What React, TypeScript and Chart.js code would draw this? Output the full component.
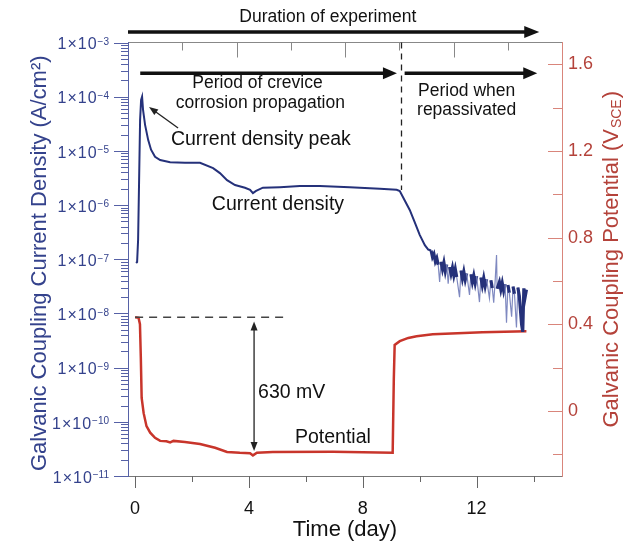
import React, { useEffect, useRef } from 'react';
import { Chart, registerables } from 'chart.js';

Chart.register(...registerables);

// ---------- data ----------
// Galvanic coupling current density (A/cm²) vs time (day)
const currentTimes = [
  0.035, 0.07, 0.105, 0.14, 0.175, 0.21, 0.245, 0.28, 0.35, 0.46, 0.56, 0.7, 0.88, 1.23, 1.75,
  2.28, 2.74, 2.98, 3.23, 3.51, 3.86, 4.04, 4.14, 4.25, 4.49, 5.09, 5.79, 6.49, 7.54, 8.6, 9.19,
  9.3, 9.47, 9.65, 9.82, 10.0, 10.18, 10.3,
  10.4, 10.45, 10.5, 10.55, 10.6, 10.65, 10.7, 10.75, 10.8, 10.85, 10.9, 10.95, 11.0, 11.05,
  11.1, 11.15, 11.2, 11.25, 11.3, 11.4, 11.45, 11.5, 11.55, 11.6, 11.65, 11.75, 11.8, 11.85,
  11.9, 11.95, 12.0, 12.1, 12.15, 12.2, 12.25, 12.3, 12.35, 12.45, 12.5, 12.55, 12.6, 12.65,
  12.7, 12.72, 12.8, 12.85, 12.9, 12.95, 13.0, 13.05, 13.1, 13.15, 13.23, 13.28, 13.33, 13.4,
  13.45, 13.5, 13.58, 13.62, 13.66, 13.7, 13.75,
];
const currentValues = [
  8.51e-8, 8.91e-8, 2.29e-7, 2.88e-6, 3.72e-5, 8.71e-5, 1.0e-4, 5.62e-5, 3.02e-5, 1.58e-5,
  1.05e-5, 7.76e-6, 6.76e-6, 6.17e-6, 6.03e-6, 6.03e-6, 4.79e-6, 3.89e-6, 2.88e-6, 2.34e-6,
  2.09e-6, 1.91e-6, 1.66e-6, 1.82e-6, 2.09e-6, 2.14e-6, 2.24e-6, 2.24e-6, 2.14e-6, 2.0e-6,
  1.91e-6, 1.82e-6, 1.23e-6, 8.13e-7, 4.9e-7, 2.82e-7, 1.82e-7, 1.51e-7,
  1.45e-7, 1.1e-7, 1.25e-7, 9.1e-8, 1.05e-7, 7.9e-8, 3.8e-8, 9.0e-8, 6.6e-8, 8.7e-8,
  6.0e-8, 8.0e-8, 3.55e-8, 7.2e-8, 5.4e-8, 7.0e-8, 5.0e-8, 6.6e-8, 4.7e-8, 2.0e-8,
  6.2e-8, 4.4e-8, 5.9e-8, 4.2e-8, 5.5e-8, 2.19e-8, 5.3e-8, 3.8e-8, 5.0e-8, 3.6e-8,
  4.9e-8, 1.62e-8, 4.6e-8, 3.3e-8, 4.5e-8, 3.2e-8, 4.3e-8, 1.91e-8, 4.1e-8, 2.95e-8,
  1.58e-8, 3.9e-8, 1.2e-7, 2.85e-8, 3.8e-8, 2.75e-8, 3.65e-8, 2.62e-8, 3.5e-8, 6.76e-9,
  3.35e-8, 2.4e-8, 8.71e-9, 3.15e-8, 2.3e-8, 5.5e-9, 3.0e-8, 2.1e-8, 6.31e-9, 4.57e-9,
  2.9e-8, 1.95e-8, 2.75e-8,
];

// Galvanic coupling potential (V_SCE) vs time (day)
const potentialTimes = [
  0, 0.12, 0.17, 0.2, 0.23, 0.3, 0.4, 0.53, 0.7, 0.88, 1.1, 1.23, 1.35, 1.75, 2.28, 2.81, 3.23,
  3.68, 4.04, 4.14, 4.28, 4.84, 6.95, 9.05, 9.09, 9.12, 9.3, 9.6, 9.89, 10.46, 12.2, 13.75,
];
const potentialValues = [
  0.432, 0.43, 0.4, 0.25, 0.06, -0.01, -0.07, -0.1, -0.124, -0.138, -0.14, -0.145, -0.138,
  -0.143, -0.152, -0.17, -0.189, -0.193, -0.195, -0.205, -0.193, -0.189, -0.188, -0.193, 0.147,
  0.305, 0.322, 0.337, 0.345, 0.354, 0.363, 0.368,
];

// ---------- axes / tick labels ----------
const xTickLabels = [0, 4, 8, 12];
const xTickMarks = [0, 2, 4, 6, 8, 10, 12, 14];
const leftTickValues = [1e-11, 1e-10, 1e-9, 1e-8, 1e-7, 1e-6, 1e-5, 1e-4, 1e-3];
const logMinorMantissas = [2, 3, 4, 5, 6, 7, 8, 9];
const rightTickValues = [0, 0.4, 0.8, 1.2, 1.6];
const rightTickMarks = [-0.2, 0, 0.2, 0.4, 0.6, 0.8, 1.0, 1.2, 1.4, 1.6];
const topTickMarks = [1, 2, 3, 4, 5, 6, 7];

const FONT = '"Liberation Sans", Arial, Helvetica, sans-serif';
const BLUE_TEXT = '#34428c';
const BLUE_AXIS = '#5661a6';
const BLUE_LINE = '#25317a';
const BLUE_SPIKE = '#7f89c0';
const RED_LINE = '#c8352b';
const RED_TEXT = '#b4423a';
const RED_AXIS = '#d9857b';

function isSpike(i: number): boolean {
  if (i <= 0 || i >= currentValues.length - 1) return false;
  const v = currentValues[i];
  const a = currentValues[i - 1];
  const b = currentValues[i + 1];
  return v < 0.6 * Math.min(a, b) || v > 1.8 * Math.max(a, b);
}

function head(ctx: CanvasRenderingContext2D, x: number, y: number, ang: number, hl: number, hw: number) {
  const c = Math.cos(ang), s = Math.sin(ang);
  ctx.beginPath();
  ctx.moveTo(x, y);
  ctx.lineTo(x - hl * c + hw * s, y - hl * s - hw * c);
  ctx.lineTo(x - hl * c - hw * s, y - hl * s + hw * c);
  ctx.closePath();
  ctx.fill();
}
function arrow(
  ctx: CanvasRenderingContext2D, x1: number, y1: number, x2: number, y2: number,
  lw: number, hl: number, hw: number, both = false,
) {
  const ang = Math.atan2(y2 - y1, x2 - x1);
  const c = Math.cos(ang), s = Math.sin(ang);
  ctx.lineWidth = lw;
  ctx.beginPath();
  ctx.moveTo(both ? x1 + c * hl * 0.8 : x1, both ? y1 + s * hl * 0.8 : y1);
  ctx.lineTo(x2 - c * hl * 0.8, y2 - s * hl * 0.8);
  ctx.stroke();
  head(ctx, x2, y2, ang, hl, hw);
  if (both) head(ctx, x1, y1, ang + Math.PI, hl, hw);
}
function text(
  ctx: CanvasRenderingContext2D, s: string, x: number, y: number, size: number,
  align: CanvasTextAlign = 'center', color = '#111',
) {
  ctx.font = `${size}px ${FONT}`;
  ctx.fillStyle = color;
  ctx.textAlign = align;
  ctx.textBaseline = 'middle';
  ctx.fillText(s, x, y);
}

const decorPlugin = {
  id: 'decor',
  afterDraw(chart: any) {
    const { ctx, chartArea: a, scales } = chart;
    const xs = scales.x, ys = scales.y, y2 = scales.y2, xt = scales.xTop;
    const px = (t: number) => xs.getPixelForValue(t);
    const pyL = (v: number) => ys.getPixelForValue(v);
    const pyR = (v: number) => y2.getPixelForValue(v);
    ctx.save();

    // ---- tick marks ----
    ctx.lineWidth = 1;
    ctx.strokeStyle = BLUE_AXIS;
    ctx.beginPath();
    leftTickValues.forEach((v, i) => {
      const yy = Math.round(pyL(v)) + 0.5;
      ctx.moveTo(a.left - 14, yy);
      ctx.lineTo(a.left, yy);
      if (i < leftTickValues.length - 1) {
        logMinorMantissas.forEach((m) => {
          const y3 = Math.round(pyL(m * v)) + 0.5;
          ctx.moveTo(a.left - 7, y3);
          ctx.lineTo(a.left, y3);
        });
      }
    });
    ctx.stroke();

    // ---- left tick labels: 1×10 with raised exponent ----
    const mainSize = 16;
    const expSize = 10;
    leftTickValues.forEach((v) => {
      const yy = pyL(v);
      const e = Math.round(Math.log10(v));
      const expStr = '\u2212' + String(Math.abs(e));
      ctx.fillStyle = BLUE_TEXT;
      ctx.textBaseline = 'alphabetic';
      ctx.font = `${expSize}px ${FONT}`;
      const we = ctx.measureText(expStr).width;
      const right = a.left - 19;
      ctx.textAlign = 'left';
      const digitTop = yy + 1 - 0.358 * mainSize;
      ctx.fillText(expStr, right - we, digitTop + 0.716 * expSize);
      ctx.font = `${mainSize}px ${FONT}`;
      (ctx as any).letterSpacing = '1px';
      ctx.textAlign = 'right';
      ctx.fillText('1\u00D710', right - we, yy + 1 + 0.358 * mainSize);
      (ctx as any).letterSpacing = '0px';
    });

    ctx.strokeStyle = '#666';
    ctx.beginPath();
    xTickMarks.forEach((t) => {
      const xx = Math.round(px(t)) + 0.5;
      ctx.moveTo(xx, a.bottom);
      ctx.lineTo(xx, a.bottom + (t % 4 === 0 ? 12 : 6));
    });
    ctx.stroke();

    ctx.strokeStyle = RED_AXIS;
    ctx.beginPath();
    rightTickMarks.forEach((v) => {
      const yy = Math.round(pyR(v)) + 0.5;
      const major = Math.abs(Math.round(v * 10) % 4) === 0;
      ctx.moveTo(a.right - (major ? 14 : 9), yy);
      ctx.lineTo(a.right, yy);
    });
    ctx.stroke();

    ctx.strokeStyle = '#888';
    ctx.beginPath();
    topTickMarks.forEach((k) => {
      const xx = Math.round(xt.getPixelForValue(k)) + 0.5;
      ctx.moveTo(xx, a.top);
      ctx.lineTo(xx, a.top + (k % 2 === 0 ? 15 : 8));
    });
    ctx.stroke();

    // ---- axis titles ----
    ctx.save();
    ctx.translate(40, (a.top + a.bottom) / 2 + 4);
    ctx.rotate(-Math.PI / 2);
    text(ctx, 'Galvanic Coupling Current Density (A/cm\u00B2)', 0, 0, 22, 'center', BLUE_TEXT);
    ctx.restore();

    ctx.save();
    ctx.translate(612, (a.top + a.bottom) / 2);
    ctx.rotate(-Math.PI / 2);
    ctx.textBaseline = 'middle';
    ctx.fillStyle = RED_TEXT;
    const p1 = 'Galvanic Coupling Potential (V';
    const p2 = 'SCE';
    const p3 = ')';
    ctx.font = `22px ${FONT}`;
    const w1 = ctx.measureText(p1).width;
    const w3 = ctx.measureText(p3).width;
    ctx.font = `14px ${FONT}`;
    const w2 = ctx.measureText(p2).width;
    let sx = -(w1 + w2 + w3 + 2) / 2;
    ctx.textAlign = 'left';
    ctx.font = `22px ${FONT}`;
    ctx.fillText(p1, sx, 0);
    sx += w1 + 1;
    ctx.font = `14px ${FONT}`;
    ctx.fillText(p2, sx, 5);
    sx += w2 + 1;
    ctx.font = `22px ${FONT}`;
    ctx.fillText(p3, sx, 0);
    ctx.restore();

    text(ctx, 'Time (day)', (a.left + a.right) / 2, 530, 22, 'center', '#111');

    // ---- annotations ----
    ctx.fillStyle = '#111';
    ctx.strokeStyle = '#111';
    const topY = a.top - 10.5;
    arrow(ctx, px(-0.25), topY, px(14.2), topY, 3.5, 15, 6);
    text(ctx, 'Duration of experiment', px(6.77), a.top - 25, 17.5);

    ctx.fillStyle = '#111';
    const periodY = pyL(2.7e-4);
    arrow(ctx, px(0.18), periodY, px(9.2), periodY, 3.5, 14, 6);
    arrow(ctx, px(9.47), periodY, px(14.13), periodY, 3.5, 14, 6);
    text(ctx, 'Period of crevice', px(4.3), pyL(1.8e-4), 17.5);
    text(ctx, 'corrosion propagation', px(4.4), pyL(7.7e-5), 17.5);
    text(ctx, 'Period when', px(11.65), pyL(1.27e-4), 17.5);
    text(ctx, 'repassivated', px(11.65), pyL(5.7e-5), 17.5);

    // dashed vertical separator
    ctx.strokeStyle = '#222';
    ctx.lineWidth = 1.3;
    ctx.setLineDash([6, 5]);
    ctx.beginPath();
    ctx.moveTo(Math.round(px(9.33)) + 0.5, a.top);
    ctx.lineTo(Math.round(px(9.33)) + 0.5, pyL(1.9e-6));
    ctx.stroke();

    // dashed horizontal at initial potential
    ctx.strokeStyle = '#444';
    ctx.lineWidth = 1.5;
    ctx.setLineDash([8, 6]);
    ctx.beginPath();
    ctx.moveTo(px(0), pyR(0.432));
    ctx.lineTo(px(5.33), pyR(0.432));
    ctx.stroke();
    ctx.setLineDash([]);

    // peak arrow
    ctx.strokeStyle = '#222';
    ctx.fillStyle = '#222';
    arrow(ctx, px(1.51), pyL(2.64e-5), px(0.49), pyL(6.46e-5), 1.3, 9, 3.5);
    text(ctx, 'Current density peak', px(4.42), pyL(1.58e-5), 19.5);
    text(ctx, 'Current density', px(5.02), pyL(1.0e-6), 19.5);

    // 630 mV double arrow
    ctx.strokeStyle = '#222';
    ctx.fillStyle = '#222';
    arrow(ctx, px(4.18), pyR(0.413), px(4.18), pyR(-0.185), 1.3, 9, 3.5, true);
    text(ctx, '630 mV', px(4.32), pyR(0.086), 19.5, 'left');
    text(ctx, 'Potential', px(6.95), pyR(-0.125), 19.5);

    ctx.restore();
  },
};

export default function App() {
  const ref = useRef<HTMLCanvasElement | null>(null);
  useEffect(() => {
    if (!ref.current) return;
    const chart = new Chart(ref.current, {
      type: 'line',
      data: {
        datasets: [
          {
            label: 'Current density',
            data: currentTimes.map((t, i) => ({ x: t, y: currentValues[i] })),
            xAxisID: 'x',
            yAxisID: 'y',
            borderColor: BLUE_LINE,
            borderWidth: 2,
            pointRadius: 0,
            fill: false,
            tension: 0,
            segment: {
              borderColor: (c: any) =>
                isSpike(c.p0DataIndex) || isSpike(c.p1DataIndex) ? BLUE_SPIKE : BLUE_LINE,
              borderWidth: (c: any) =>
                isSpike(c.p0DataIndex) || isSpike(c.p1DataIndex) ? 1.2 : c.p0.parsed.x > 10.3 ? 3.2 : 2,
            },
          },
          {
            label: 'Potential',
            data: potentialTimes.map((t, i) => ({ x: t, y: potentialValues[i] })),
            xAxisID: 'x',
            yAxisID: 'y2',
            borderColor: RED_LINE,
            borderWidth: 2.5,
            pointRadius: 0,
            fill: false,
            tension: 0,
          },
        ],
      },
      options: {
        responsive: false,
        animation: false,
        events: [],
        layout: { padding: 0 },
        plugins: { legend: { display: false }, tooltip: { enabled: false } },
        scales: {
          x: {
            type: 'linear',
            position: 'bottom',
            min: -0.25,
            max: 15,
            afterBuildTicks: (s: any) => {
              s.ticks = xTickLabels.map((v) => ({ value: v }));
            },
            afterFit: (s: any) => {
              s.height = 67;
            },
            grid: { display: false, drawTicks: false },
            border: { display: true, color: '#777', width: 1 },
            ticks: {
              padding: 22,
              color: '#111',
              font: { size: 18, family: FONT },
              maxRotation: 0,
              autoSkip: false,
              callback: (v: any) => String(v),
            },
          },
          xTop: {
            type: 'linear',
            position: 'top',
            min: 0,
            max: 8,
            afterFit: (s: any) => {
              s.height = 42.5;
            },
            grid: { display: false, drawTicks: false },
            border: { display: true, color: '#888', width: 1 },
            ticks: { display: false },
          },
          y: {
            type: 'logarithmic',
            position: 'left',
            min: 1e-11,
            max: 1e-3,
            afterBuildTicks: (s: any) => {
              s.ticks = leftTickValues.map((v) => ({ value: v }));
            },
            afterFit: (s: any) => {
              s.width = 128;
            },
            grid: { display: false, drawTicks: false },
            border: { display: true, color: BLUE_AXIS, width: 1 },
            ticks: { display: false },
          },
          y2: {
            type: 'linear',
            position: 'right',
            min: -0.3,
            max: 1.7,
            afterBuildTicks: (s: any) => {
              s.ticks = rightTickValues.map((v) => ({ value: v }));
            },
            afterFit: (s: any) => {
              s.width = 71;
            },
            grid: { display: false, drawTicks: false },
            border: { display: true, color: RED_AXIS, width: 1 },
            ticks: {
              padding: 6,
              color: RED_TEXT,
              font: { size: 18, family: FONT },
              autoSkip: false,
              callback: (v: any) => String(Math.round(Number(v) * 10) / 10),
            },
          },
        },
      },
      plugins: [decorPlugin],
    } as any);
    return () => chart.destroy();
  }, []);
  return (
    <div style={{ position: 'fixed', left: 0, top: 0, width: 633, height: 543, background: '#fff' }}>
      <canvas ref={ref} width={633} height={543} style={{ width: 633, height: 543 }} />
    </div>
  );
}
